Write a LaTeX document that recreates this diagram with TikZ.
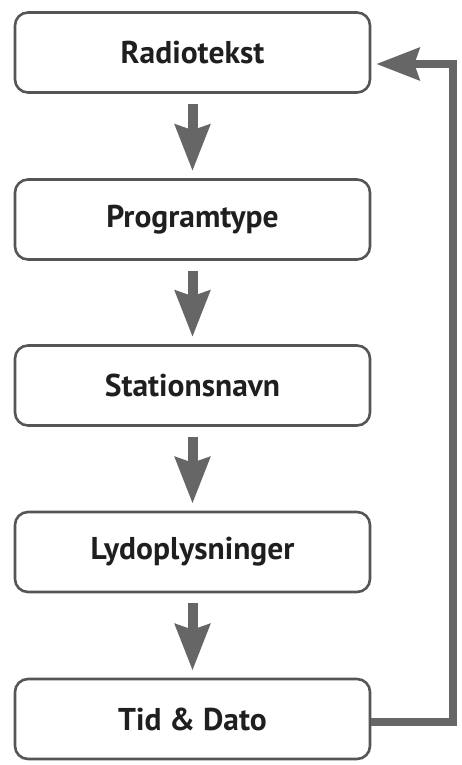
\documentclass[tikz,border=0pt]{standalone}
\usepackage{fontspec}
\setmainfont{PT Sans}
\usetikzlibrary{arrows.meta}
\definecolor{edge}{HTML}{555555}
\definecolor{arr}{HTML}{666666}
\begin{document}
\begin{tikzpicture}[x=1pt,y=1pt,
  box/.style={draw=edge,line width=2.6pt,rounded corners=13pt,fill=white,minimum width=355pt,minimum height=80pt,inner sep=0pt,font=\fontsize{31.5}{36}\selectfont\bfseries,text=black!88},
  flow/.style={draw=arr,line width=10pt,-{Stealth[length=46pt,width=34pt,inset=5pt]},shorten <=10pt,shorten >=7pt},
  back/.style={draw=arr,line width=8pt,-{Stealth[length=43pt,width=32pt,inset=5pt]}}]
\useasboundingbox (0,0) rectangle (462,-765);
\node[box] (a) at (192.5,-52.5) {Radiotekst};
\node[box] (b) at (192.5,-219.5) {Programtype};
\node[box] (c) at (192.5,-385.5) {Stationsnavn};
\node[box] (d) at (192.5,-552) {Lydoplysninger};
\node[box] (e) at (192.5,-719) {Tid \& Dato};
\draw[flow] (a.south) -- (b.north);
\draw[flow] (b.south) -- (c.north);
\draw[flow] (c.south) -- (d.north);
\draw[flow] (d.south) -- (e.north);
\draw[back] ([yshift=-3pt]e.east) -| ([xshift=82pt,yshift=-11.5pt]a.east) -- ([xshift=5pt,yshift=-11.5pt]a.east);
\end{tikzpicture}
\end{document}
